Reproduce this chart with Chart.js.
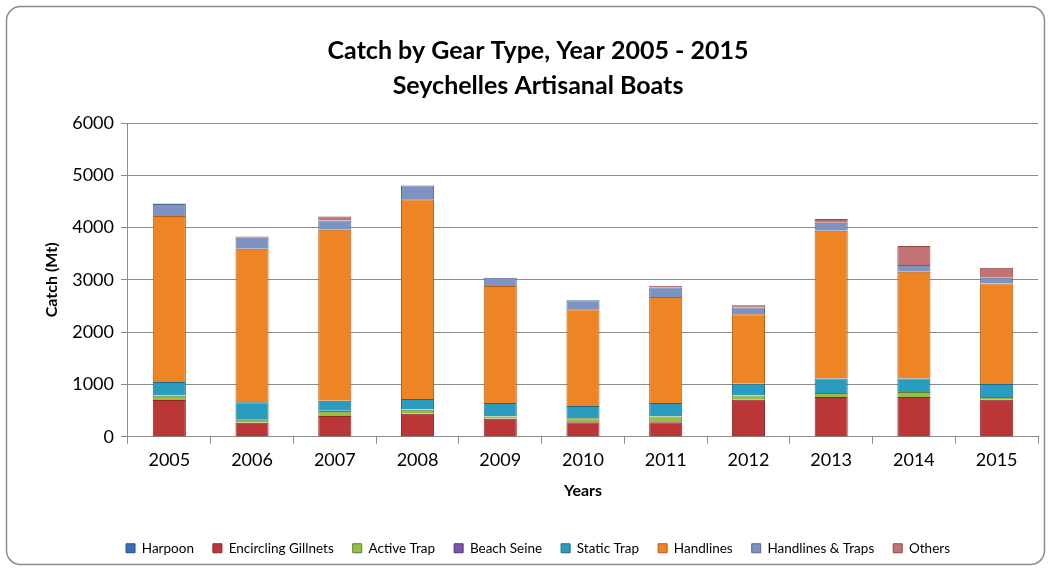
<!DOCTYPE html>
<html>
<head>
<meta charset="utf-8">
<script src="https://cdn.jsdelivr.net/npm/chart.js@4.4.0/dist/chart.umd.min.js"></script>
<style>
  html, body { margin: 0; padding: 0; background: #fff; }
  #wrap { width: 1050px; height: 569px; position: relative; }
</style>
</head>
<body>
<div id="wrap"><canvas id="catch_chart" width="1050" height="569"></canvas></div>
<script>
// data (Mt)
const years = ["2005", "2006", "2007", "2008", "2009", "2010", "2011", "2012", "2013", "2014", "2015"];
const harpoon = [4, 3, 5, 4, 3, 2, 3, 4, 5, 4, 3];
const encirclingGillnets = [700, 262, 390, 434, 338, 275, 275, 702, 754, 754, 702];
const activeTrap = [80, 60, 95, 77, 45, 76, 108, 83, 76, 95, 52];
const beachSeine = [2, 12, 6, 4, 4, 4, 4, 2, 2, 2, 2];
const staticTrap = [260, 320, 192, 204, 256, 230, 256, 224, 275, 256, 249];
const handlines = [3175, 2938, 3269, 3819, 2235, 1852, 2024, 1328, 2829, 2043, 1922];
const handlinesTraps = [230, 211, 179, 262, 159, 172, 185, 128, 153, 128, 108];
const others = [10, 25, 77, 0, 0, 0, 26, 45, 70, 364, 192];

const FONT = "Lato, 'Liberation Sans', sans-serif";

var canvas = document.getElementById("catch_chart");
var ctx = canvas.getContext("2d");

// rounded frame around the whole chart
const frame = {
  id: "frame",
  beforeDraw(chart) {
    const c = chart.ctx;
    c.save();
    c.fillStyle = "#fff";
    c.fillRect(0, 0, chart.width, chart.height);
    c.strokeStyle = "#8c8c8c";
    c.lineWidth = 1.5;
    c.beginPath();
    c.roundRect(6.5, 6.5, chart.width - 12, chart.height - 11, 14);
    c.stroke();
    c.restore();
  },
};

// bevel-ish fill: darker at both edges, lighter in the middle
function shade(fill, edge) {
  return (context) => {
    const el = context.element;
    if (!el || el.width === undefined) return fill;
    const x0 = el.x - el.width / 2, x1 = el.x + el.width / 2;
    if (!isFinite(x0) || !isFinite(x1) || x1 <= x0) return fill;
    const g = context.chart.ctx.createLinearGradient(x0, 0, x1, 0);
    g.addColorStop(0, edge);
    g.addColorStop(0.12, fill);
    g.addColorStop(0.88, fill);
    g.addColorStop(1, edge);
    return g;
  };
}

function ds(label, data, fill, edge) {
  return {
    label: label,
    data: data,
    fillPlain: fill,
    backgroundColor: shade(fill, edge),
    borderColor: edge,
    borderWidth: 1,
    barPercentage: 0.8,
    categoryPercentage: 0.5,
  };
}

const chart = new Chart(canvas, {
  type: "bar",
  data: {
    labels: years,
    datasets: [
      ds("Harpoon", harpoon, "#3a6fb5", "#2a4f85"),
      ds("Encircling Gillnets", encirclingGillnets, "#bb3636", "#8a2626"),
      ds("Active Trap", activeTrap, "#93bf45", "#5f7e2a"),
      ds("Beach Seine", beachSeine, "#7a55a8", "#51377a"),
      ds("Static Trap", staticTrap, "#2a9cc0", "#1d6a84"),
      ds("Handlines", handlines, "#ee8424", "#b35d12"),
      ds("Handlines & Traps", handlinesTraps, "#7d94c2", "#566890"),
      ds("Others", others, "#c27272", "#8a4848"),
    ],
  },
  options: {
    responsive: false,
    animation: false,
    layout: { padding: { left: 38, right: 12, top: 14, bottom: 4 } },
    plugins: {
      title: {
        display: true,
        text: ["Catch by Gear Type, Year 2005 - 2015", "Seychelles Artisanal Boats"],
        color: "#000",
        font: { family: FONT, size: 25, weight: "bold", lineHeight: 1.38 },
        padding: { top: 20, bottom: 20 },
      },
      legend: {
        position: "bottom",
        labels: {
          color: "#000",
          font: { family: FONT, size: 13.5 },
          boxWidth: 9,
          boxHeight: 9,
          padding: 19,
          generateLabels: (chart) =>
            chart.data.datasets.map((d, i) => ({
              text: d.label,
              fillStyle: d.fillPlain,
              strokeStyle: d.borderColor,
              lineWidth: 1,
              fontColor: "#000",
              hidden: false,
              datasetIndex: i,
            })),
        },
      },
      tooltip: { enabled: false },
    },
    scales: {
      x: {
        stacked: true,
        grid: { drawOnChartArea: false, color: "#8c8c8c", tickLength: 7 },
        border: { color: "#8c8c8c" },
        ticks: { color: "#000", font: { family: FONT, size: 18 }, padding: 6 },
        title: {
          display: true,
          text: "Years",
          color: "#000",
          font: { family: FONT, size: 16, weight: "bold" },
          padding: { top: 4, bottom: 22 },
        },
      },
      y: {
        stacked: true,
        min: 0,
        max: 6000,
        ticks: {
          stepSize: 1000,
          color: "#000",
          font: { family: FONT, size: 18 },
          padding: 7,
          callback: (v) => String(v),
        },
        grid: { color: "#8c8c8c", tickLength: 7 },
        border: { color: "#8c8c8c" },
        title: {
          display: true,
          text: "Catch (Mt)",
          color: "#000",
          font: { family: FONT, size: 16, weight: "bold" },
          padding: { bottom: 4 },
        },
      },
    },
  },
  plugins: [frame],
});
</script>
</body>
</html>
